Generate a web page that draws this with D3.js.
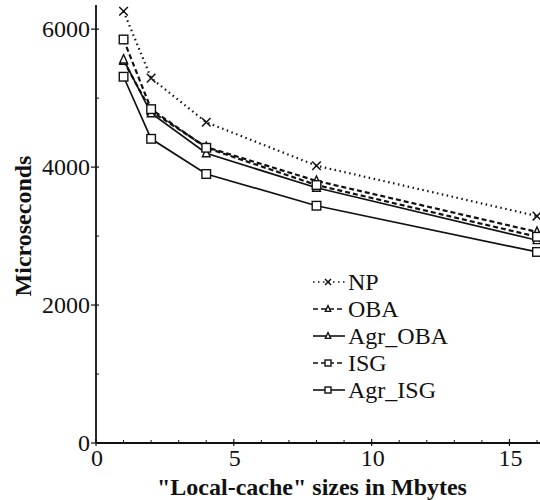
<!DOCTYPE html>
<html>
<head>
<meta charset="utf-8">
<script src="https://cdn.jsdelivr.net/npm/d3@7"></script>
<style>
body { margin: 0; background: #fff; }
svg { display: block; }
text { font-family: "Liberation Serif", "DejaVu Serif", serif; fill: #111; }
</style>
</head>
<body>
<svg width="540" height="500"></svg>
<script>
// cache sizes in Mbytes
var sizes = [1, 2, 4, 8, 16]

var seriesNames = ["NP", "OBA", "Agr_OBA", "ISG", "Agr_ISG"]

var npValues = [6260, 5290, 4650, 4020, 3290]
var obaValues = [5540, 4810, 4290, 3800, 3060]
var agrObaValues = [5560, 4780, 4200, 3700, 2940]
var isgValues = [5850, 4840, 4280, 3740, 2990]
var agrIsgValues = [5310, 4410, 3900, 3440, 2770]

var xTicks = [0, 5, 10, 15]
var yTicks = [0, 2000, 4000, 6000]

var series = [
	{ name: "NP", values: npValues, dash: "1.5,3.5", marker: "x" },
	{ name: "OBA", values: obaValues, dash: "5,3", marker: "tri" },
	{ name: "Agr_OBA", values: agrObaValues, dash: null, marker: "tri" },
	{ name: "ISG", values: isgValues, dash: "5,3", marker: "sq" },
	{ name: "Agr_ISG", values: agrIsgValues, dash: null, marker: "sq" }
]

var svg = d3.select("svg")

var x = d3.scaleLinear().domain([0, 16]).range([96, 537])
var y = d3.scaleLinear().domain([0, 6350]).range([443, 5])

// axis lines
svg.append("line").attr("x1", 96).attr("x2", 540).attr("y1", y(0)).attr("y2", y(0))
	.attr("stroke", "#111").attr("stroke-width", 1.8)
svg.append("line").attr("x1", 96).attr("x2", 96).attr("y1", y(0)).attr("y2", 5)
	.attr("stroke", "#111").attr("stroke-width", 1.8)

// y ticks
yTicks.forEach(function(t) {
	svg.append("line").attr("x1", 91).attr("x2", 99).attr("y1", y(t)).attr("y2", y(t))
		.attr("stroke", "#111").attr("stroke-width", 1.2)
	svg.append("text").attr("x", 90).attr("y", y(t) + 8)
		.attr("text-anchor", "end").attr("font-size", 24).text(t)
})
d3.range(1000, 6001, 2000).forEach(function(t) {
	svg.append("line").attr("x1", 96).attr("x2", 99).attr("y1", y(t)).attr("y2", y(t))
		.attr("stroke", "#111").attr("stroke-width", 1)
})

// x ticks
xTicks.forEach(function(t) {
	svg.append("line").attr("x1", x(t)).attr("x2", x(t)).attr("y1", y(0) - 4).attr("y2", y(0) + 3)
		.attr("stroke", "#111").attr("stroke-width", 1.2)
	svg.append("text").attr("x", x(t) + 1).attr("y", y(0) + 23)
		.attr("text-anchor", "middle").attr("font-size", 24).text(t)
})
d3.range(1, 17).forEach(function(t) {
	if (t % 5) {
		svg.append("line").attr("x1", x(t)).attr("x2", x(t)).attr("y1", y(0) - 3).attr("y2", y(0))
			.attr("stroke", "#111").attr("stroke-width", 1)
	}
})

// axis titles
svg.append("text").attr("x", 312).attr("y", 495)
	.attr("text-anchor", "middle").attr("font-size", 24).attr("font-weight", "bold")
	.text('"Local-cache" sizes in Mbytes')
svg.append("text").attr("transform", "translate(31,226) rotate(-90)")
	.attr("text-anchor", "middle").attr("font-size", 24).attr("font-weight", "bold")
	.text("Microseconds")

function drawMarker(g, type, cx, cy, r) {
	if (type == "x") {
		g.append("path").attr("d", "M" + (cx - r) + "," + (cy - r) + "L" + (cx + r) + "," + (cy + r)
			+ "M" + (cx - r) + "," + (cy + r) + "L" + (cx + r) + "," + (cy - r))
			.attr("stroke", "#111").attr("stroke-width", 1.5).attr("fill", "none")
	} else if (type == "tri") {
		g.append("path").attr("d", "M" + cx + "," + (cy - r * 1.15) + "L" + (cx + r * 0.9) + "," + (cy + r * 0.8) + "L" + (cx - r * 0.9) + "," + (cy + r * 0.8) + "Z")
			.attr("stroke", "#111").attr("stroke-width", 1.4).attr("fill", "#fff")
	} else {
		g.append("rect").attr("x", cx - r).attr("y", cy - r).attr("width", 2 * r).attr("height", 2 * r)
			.attr("stroke", "#111").attr("stroke-width", 1.4).attr("fill", "#fff")
	}
}

var line = d3.line()
	.x(function(d, i) { return x(sizes[i]) })
	.y(function(d) { return y(d) })

var plot = svg.append("g")

series.forEach(function(s) {
	plot.append("path")
		.attr("d", line(s.values))
		.attr("fill", "none")
		.attr("stroke", "#111")
		.attr("stroke-width", s.dash ? 2.2 : 1.7)
		.attr("stroke-dasharray", s.dash)
})
series.forEach(function(s) {
	s.values.forEach(function(v, i) {
		drawMarker(plot, s.marker, x(sizes[i]), y(v), 4.3)
	})
})

// legend
var legend = svg.append("g")
series.forEach(function(s, i) {
	var ly = 282 + i * 27
	legend.append("line").attr("x1", 313).attr("x2", 345).attr("y1", ly).attr("y2", ly)
		.attr("stroke", "#111").attr("stroke-width", s.dash ? 1.6 : 1.6)
		.attr("stroke-dasharray", s.dash)
	drawMarker(legend, s.marker, 328, ly, 3)
	legend.append("text").attr("x", 348).attr("y", ly + 8)
		.attr("font-size", 24).text(s.name)
})
</script>
</body>
</html>
